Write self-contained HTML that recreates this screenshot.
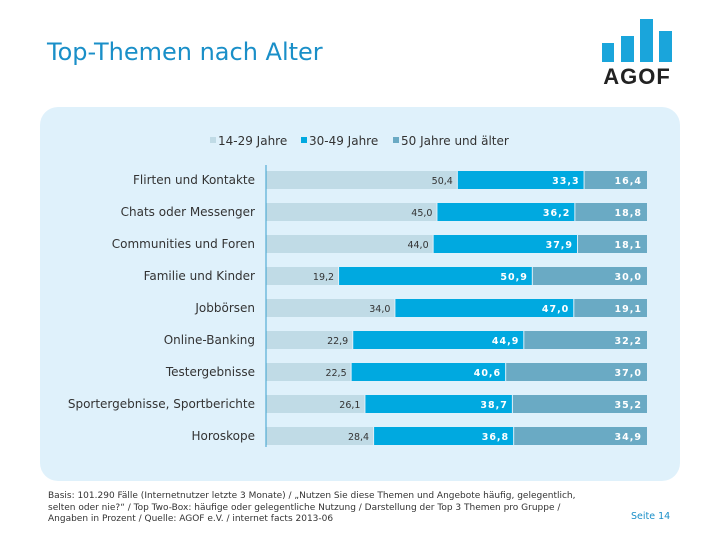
<!DOCTYPE html>
<html><head><meta charset="utf-8"><style>
body{margin:0;width:720px;height:540px;background:#fff;font-family:"DejaVu Sans","Liberation Sans",sans-serif;position:relative;overflow:hidden}
.t{position:absolute}
</style></head><body>
<div class="t" style="left:47px;top:38px;font-size:24px;color:#1a8fc8;white-space:nowrap">Top-Themen nach Alter</div>
<svg class="t" style="left:0;top:0" width="720" height="100">
<rect x="602" y="43" width="12" height="19" fill="#1aa5db"/>
<rect x="621" y="36" width="13" height="26" fill="#1aa5db"/>
<rect x="640" y="19" width="13" height="43" fill="#1aa5db"/>
<rect x="659" y="31" width="13" height="31" fill="#1aa5db"/>
<text x="637" y="84" text-anchor="middle" font-family="Liberation Sans" font-weight="bold" font-size="22" letter-spacing="1" fill="#222">AGOF</text>
</svg>
<div class="t" style="left:40px;top:107px;width:640px;height:374px;background:#dff1fb;border-radius:18px"></div>
<svg id="c" class="t" style="left:0;top:0" width="720" height="540" font-family="DejaVu Sans, Liberation Sans, sans-serif"></svg>
<div class="t" style="left:48px;top:491px;font-size:9px;line-height:11.5px;color:#333;white-space:nowrap">Basis: 101.290 Fälle (Internetnutzer letzte 3 Monate) / „Nutzen Sie diese Themen und Angebote häufig, gelegentlich,<br>selten oder nie?“ / Top Two-Box: häufige oder gelegentliche Nutzung / Darstellung der Top 3 Themen pro Gruppe /<br>Angaben in Prozent / Quelle: AGOF e.V. / internet facts 2013-06</div>
<div class="t" style="left:631px;top:511px;font-size:9.5px;color:#1a8fc8">Seite 14</div>
<script>
const categories=["Flirten und Kontakte","Chats oder Messenger","Communities und Foren","Familie und Kinder","Jobbörsen","Online-Banking","Testergebnisse","Sportergebnisse, Sportberichte","Horoskope"];
const s1=[50.4,45.0,44.0,19.2,34.0,22.9,22.5,26.1,28.4];
const s2=[33.3,36.2,37.9,50.9,47.0,44.9,40.6,38.7,36.8];
const s3=[16.4,18.8,18.1,30.0,19.1,32.2,37.0,35.2,34.9];
const seriesNames=["14-29 Jahre","30-49 Jahre","50 Jahre und älter"];
const colors=["#c0dbe6","#00a9e0","#6aaac4"];
const svg=document.getElementById('c');const NS="http://www.w3.org/2000/svg";
function mk(t,a,txt){const e=document.createElementNS(NS,t);for(const k in a)e.setAttribute(k,a[k]);if(txt!=null)e.textContent=txt;svg.appendChild(e);return e;}
const x0=266,W=381,y0=171,step=32,bh=18;
const xs=v=>v/100*W;
const fmt=v=>v.toFixed(1).replace('.',',');
let lx=[210,301,393];
seriesNames.forEach((n,i)=>{
const r=mk('rect',{x:lx[i],y:137,width:6,height:6,fill:colors[i]});


const t=mk('text',{x:lx[i]+8,y:145,'font-size':12,fill:'#333'},n);


});
categories.forEach((c,i)=>{
const y=y0+i*step;
const tot=s1[i]+s2[i]+s3[i];
const vals=[s1[i],s2[i],s3[i]];
let x=x0;
const lab=mk('text',{x:255,y:y+13,'text-anchor':'end','font-size':12,fill:'#333'},c);


vals.forEach((v,j)=>{
const w=xs(v/tot*100);
const r=mk('rect',{x:x,y:y,width:w-(j<2?1:0),height:bh,fill:colors[j]});


const t=mk('text',{x:x+w-5,y:y+13,'text-anchor':'end','font-size':9.5,fill:j==0?'#333':'#fff','font-weight':j==0?'normal':'bold','letter-spacing':j==0?0:1},fmt(v));


x+=w;
});
});
const ax=mk('line',{x1:x0,y1:165,x2:x0,y2:447,stroke:'#3aa0cc','stroke-width':1});


</script>
</body></html>
